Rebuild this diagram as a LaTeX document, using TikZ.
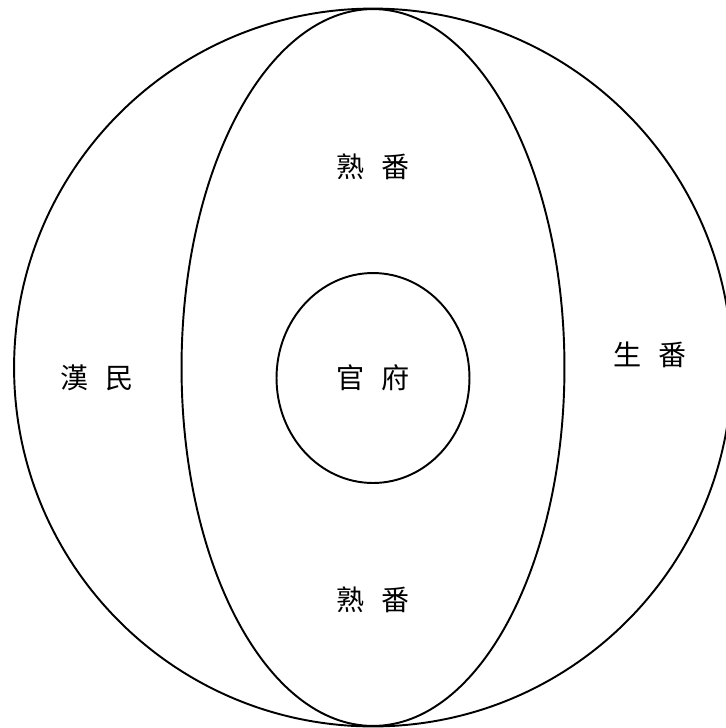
\documentclass[tikz,border=0pt]{standalone}
\usepackage{fontspec}
\newfontfamily\cjk{Noto Sans CJK TC}

\begin{document}
\begin{tikzpicture}[x=0.02cm, y=-0.02cm]
    \definecolor{borderColour}{HTML}{000000}

    \tikzset{
        ring/.style={draw=borderColour, line width=1.1pt},
        region/.style={font=\cjk\fontsize{16}{16}\selectfont, inner sep=0pt}
    }

    \useasboundingbox (0,0) rectangle (725,728);

    % Centres of the rings
    \coordinate (centre) at (373,367.5);
    \coordinate (core) at (373,378);

    % Draw the rings
    \draw[ring] (centre) circle [radius=7.18cm];
    \draw[ring] (centre) ellipse [x radius=3.83cm, y radius=7.17cm];
    \draw[ring] (core) ellipse [x radius=1.93cm, y radius=2.1cm];

    % Labels
    \node[region] (shuTop) at (373,167) {熟\hspace{0.62em}番};
    \node[region] (shuBottom) at (373,600) {熟\hspace{0.62em}番};
    \node[region] (hanmin) at (97,378) {漢\hspace{0.62em}民};
    \node[region] (guanfu) at (core) {官\hspace{0.62em}府};
    \node[region] (shengfan) at (650,355) {生\hspace{0.62em}番};

\end{tikzpicture}
\end{document}
